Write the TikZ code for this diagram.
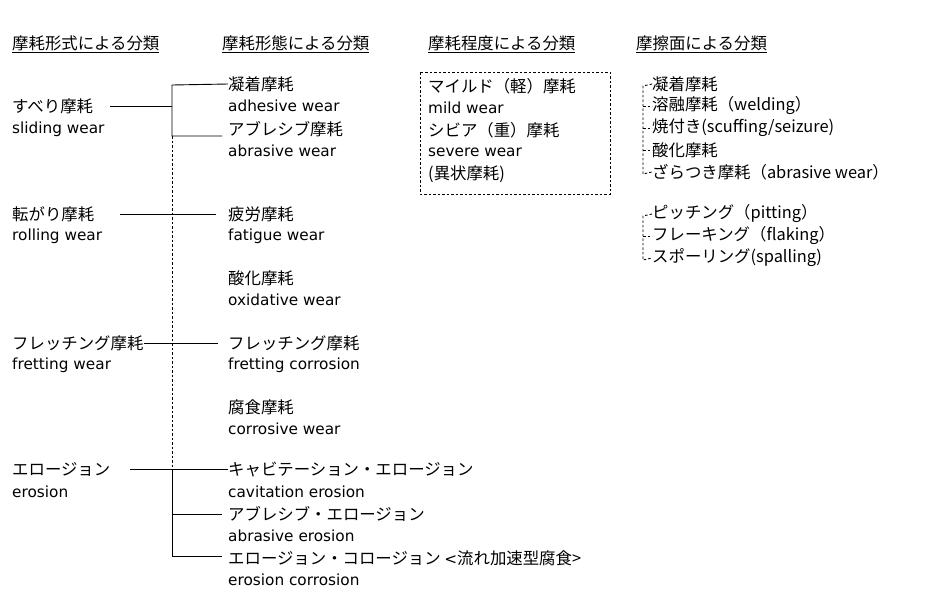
\documentclass[tikz,border=0pt]{standalone}
\usepackage{fontspec}
\setmainfont{Noto Sans CJK JP}
\newfontfamily\latf{DejaVu Sans}
\begin{document}
\begin{tikzpicture}[x=1pt,y=-1pt,
  t/.style={anchor=west,inner sep=0pt,font=\fontsize{16.4}{18}\selectfont},
  e/.style={anchor=west,inner sep=0pt,font=\latf\fontsize{15.3}{18}\selectfont},
  hd/.style={t},
  sl/.style={line width=0.9pt},
  dl/.style={line width=0.9pt,dash pattern=on 2.5pt off 2pt}]
\useasboundingbox (0,0) rectangle (949,598);
\node[hd] (h1) at (12,44) {\underline{摩耗形式による分類}};
\node[hd] (h2) at (222,44) {\underline{摩耗形態による分類}};
\node[hd] (h3) at (428,44) {\underline{摩耗程度による分類}};
\node[hd] (h4) at (636,44) {\underline{摩擦面による分類}};
% left
\node[t] (a1) at (12,106) {すべり摩耗};
\node[e] at (12,129) {sliding wear};
\node[t] (a2) at (12,214) {転がり摩耗};
\node[e] at (12,236) {rolling wear};
\node[t] (a3) at (12,343) {フレッチング摩耗};
\node[e] at (12,365) {fretting wear};
\node[t] (a4) at (12,469) {エロージョン};
\node[e] at (12,492) {erosion};
% middle
\node[t] (b1) at (228,84) {凝着摩耗};
\node[e] at (228,106) {adhesive wear};
\node[t] (b2) at (228,129) {アブレシブ摩耗};
\node[e] at (228,151) {abrasive wear};
\node[t] (b3) at (228,214) {疲労摩耗};
\node[e] at (228,236) {fatigue wear};
\node[t] at (228,278) {酸化摩耗};
\node[e] at (228,300) {oxidative wear};
\node[t] (b5) at (228,343) {フレッチング摩耗};
\node[e] at (228,365) {fretting corrosion};
\node[t] at (228,407) {腐食摩耗};
\node[e] at (228,429) {corrosive wear};
\node[t] (b7) at (228,469) {キャビテーション・エロージョン};
\node[e] at (228,492) {cavitation erosion};
\node[t] (b8) at (228,514) {アブレシブ・エロージョン};
\node[e] at (228,536) {abrasive erosion};
\node[t] (b9) at (228,558) {エロージョン・コロージョン \latf\fontsize{15.3}{18}\selectfont <\fontspec{Noto Sans CJK JP}\fontsize{16.4}{18}\selectfont 流れ加速型腐食>};
\node[e] at (228,580) {erosion corrosion};
\coordinate (v1) at (172,85);
\coordinate (v2) at (172,136);
\coordinate (v3) at (172,469);
\coordinate (v4) at (172,556);
\draw[sl] (110,106) -- (172,106);
\draw[sl] (b1.west) -- (v1) -- (v2) -- (222,136);
\draw[dl] (v2) -- (v3);
\draw[sl] (120,214) -- (216,214);
\draw[sl] (a3.east) -- (218,343);
\draw[sl] (130,469) -- (b7.west);
\draw[sl] (v3) -- (v4) -- (222,556);
\draw[sl] (172,514) -- (222,514);
% degree box
\draw[dl] (420,72) rectangle (610,194);
\node[t] at (428,86) {マイルド（軽）摩耗};
\node[e] at (428,108) {mild wear};
\node[t] at (428,130) {シビア（重）摩耗};
\node[e] at (428,152) {severe wear};
\node[t] at (428,174) {(異状摩耗)};
% right
\node[t] (c1) at (652,84) {凝着摩耗};
\node[t] (c2) at (652,106) {溶融摩耗（welding）};
\node[t] (c3) at (652,128) {焼付き(scuffing/seizure)};
\node[t] (c4) at (652,150) {酸化摩耗};
\node[t] (c5) at (652,172) {ざらつき摩耗（abrasive wear）};
\node[t] (d1) at (652,214) {ピッチング（pitting）};
\node[t] (d2) at (652,236) {フレーキング（flaking）};
\node[t] (d3) at (652,258) {スポーリング(spalling)};
\draw[dl] (c1.west) -- (643,86) -- (643,174) -- (c5.west);
\foreach \n in {c2,c3,c4} \draw[dl] (643,0|-\n.west) -- (\n.west);
\draw[dl] (d1.west) -- (643,216) -- (643,260) -- (d3.west);
\draw[dl] (643,0|-d2.west) -- (d2.west);
\end{tikzpicture}
\end{document}
